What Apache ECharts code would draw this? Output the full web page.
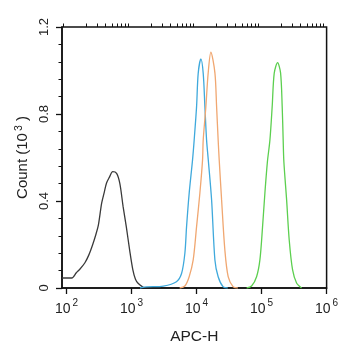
<!DOCTYPE html>
<html>
<head>
<meta charset="utf-8">
<script src="https://cdn.jsdelivr.net/npm/echarts@6/dist/echarts.min.js"></script>
<style>
  html, body { margin: 0; padding: 0; background: #fff; }
  #chart { width: 345px; height: 350px; }
</style>
</head>
<body>
<div id="chart"></div>
<script>
// Flow cytometry histograms: x = log10(APC-H), y = count in thousands
const decadeTicks = [2, 3, 4, 5, 6];
const yTicks = [0, 0.4, 0.8, 1.2];

const isotypeCurve = [
  [1.93, 0.046], [2.08, 0.046], [2.15, 0.070], [2.20, 0.085], [2.28, 0.115],
  [2.34, 0.150], [2.40, 0.198], [2.45, 0.245], [2.49, 0.290], [2.54, 0.390],
  [2.58, 0.440], [2.615, 0.483], [2.66, 0.510], [2.71, 0.535], [2.77, 0.527],
  [2.82, 0.480], [2.87, 0.374], [2.92, 0.280], [2.97, 0.175], [3.02, 0.083],
  [3.06, 0.040], [3.10, 0.022], [3.18, 0.003]
];
const cyanCurve = [
  [3.13, 0.000], [3.23, 0.005], [3.49, 0.009], [3.69, 0.029], [3.77, 0.068],
  [3.82, 0.160], [3.846, 0.282], [3.886, 0.435], [3.938, 0.589], [3.963, 0.680],
  [4.000, 0.834], [4.025, 0.987], [4.066, 1.053], [4.102, 0.987], [4.128, 0.834],
  [4.154, 0.680], [4.18, 0.589], [4.231, 0.405], [4.282, 0.129], [4.332, 0.052],
  [4.409, 0.005], [4.48, 0.000]
];
const orangeCurve = [
  [3.74, 0.000], [3.82, 0.009], [3.886, 0.052], [3.948, 0.129], [4.000, 0.282],
  [4.051, 0.437], [4.092, 0.589], [4.102, 0.680], [4.143, 0.834], [4.178, 0.987],
  [4.220, 1.084], [4.282, 0.989], [4.308, 0.834], [4.332, 0.680], [4.348, 0.589],
  [4.385, 0.405], [4.435, 0.175], [4.486, 0.052], [4.563, 0.005], [4.635, 0.000]
];
const greenCurve = [
  [4.77, 0.000], [4.846, 0.009], [4.923, 0.052], [4.974, 0.129], [5.015, 0.282],
  [5.051, 0.437], [5.089, 0.579], [5.128, 0.680], [5.163, 0.834], [5.194, 0.987],
  [5.246, 1.036], [5.292, 0.989], [5.317, 0.834], [5.332, 0.680], [5.343, 0.579],
  [5.385, 0.405], [5.425, 0.221], [5.477, 0.083], [5.538, 0.023], [5.615, 0.000]
];

// log-scale minor ticks (2..9 within each decade)
const minorTicks = [];
for (let d = 1; d < 6; d++) {
  for (let k = 2; k <= 9; k++) {
    const v = d + Math.log10(k);
    if (v >= 1.93 && v <= 6) minorTicks.push(v);
  }
}

const font = 'Liberation Sans, Arial, sans-serif';
const xMin = 1.93, xMax = 6;

const chart = echarts.init(document.getElementById('chart'), null, { renderer: 'canvas' });

function curve(data, color) {
  return {
    type: 'line',
    data: data,
    xAxisIndex: 0,
    yAxisIndex: 0,
    showSymbol: false,
    smooth: 0.3,
    lineStyle: { color: color, width: 1.3 },
    silent: true,
    animation: false
  };
}

chart.setOption({
  animation: false,
  textStyle: { fontFamily: font },
  grid: {
    left: 62, top: 27, width: 264.6, height: 261,
    show: true, borderColor: '#111', borderWidth: 1.5,
    backgroundColor: '#fff'
  },
  xAxis: [
    {
      type: 'value', min: xMin, max: xMax,
      axisLine: { show: true, lineStyle: { color: '#111', width: 1.5 } },
      axisTick: { show: true, length: 6, customValues: decadeTicks, lineStyle: { color: '#111', width: 1.3 } },
      splitLine: { show: false },
      axisLabel: {
        customValues: decadeTicks,
        margin: 10,
        formatter: v => '{n|10}{s|' + Math.round(v) + '}',
        rich: {
          n: { fontSize: 14, color: '#222', fontFamily: font, lineHeight: 22 },
          s: { fontSize: 10, color: '#222', fontFamily: font, lineHeight: 9, verticalAlign: 'top', padding: [0, 0, 0, 2] }
        }
      },
      name: 'APC-H',
      nameLocation: 'middle',
      nameGap: 41,
      nameTextStyle: { fontSize: 15.5, color: '#222', fontFamily: font }
    },
    {
      type: 'value', min: xMin, max: xMax,
      axisLine: { show: false },
      axisTick: { show: true, length: 3.5, customValues: minorTicks, lineStyle: { color: '#111', width: 1 } },
      axisLabel: { show: false },
      splitLine: { show: false }
    }
  ],
  yAxis: {
    type: 'value', min: 0, max: 1.2, interval: 0.4,
    axisLine: { show: true, lineStyle: { color: '#111', width: 1.5 } },
    axisTick: { show: true, length: 6, lineStyle: { color: '#111', width: 1.3 } },
    minorTick: { show: true, splitNumber: 5, length: 3.5, lineStyle: { color: '#111', width: 1 } },
    splitLine: { show: false },
    axisLabel: {
      rotate: 90,
      margin: 11,
      fontSize: 13,
      color: '#222',
      fontFamily: font,
      formatter: v => (v === 0 ? '0' : v.toFixed(1))
    },
    name: '{t|Count (10}{s|3}{t| )}',
    nameLocation: 'middle',
    nameRotate: 90,
    nameGap: 29,
    nameTextStyle: {
      rich: {
        t: { fontSize: 15, color: '#222', fontFamily: font, lineHeight: 18 },
        s: { fontSize: 10.5, color: '#222', fontFamily: font, lineHeight: 18, verticalAlign: 'top', padding: [0, 0, 0, 2] }
      }
    }
  },
  series: [
    curve(isotypeCurve, '#3a3a3a'),
    curve(cyanCurve, '#3fa9dc'),
    curve(orangeCurve, '#f0a771'),
    curve(greenCurve, '#5ccf4f')
  ]
});
</script>
</body>
</html>
